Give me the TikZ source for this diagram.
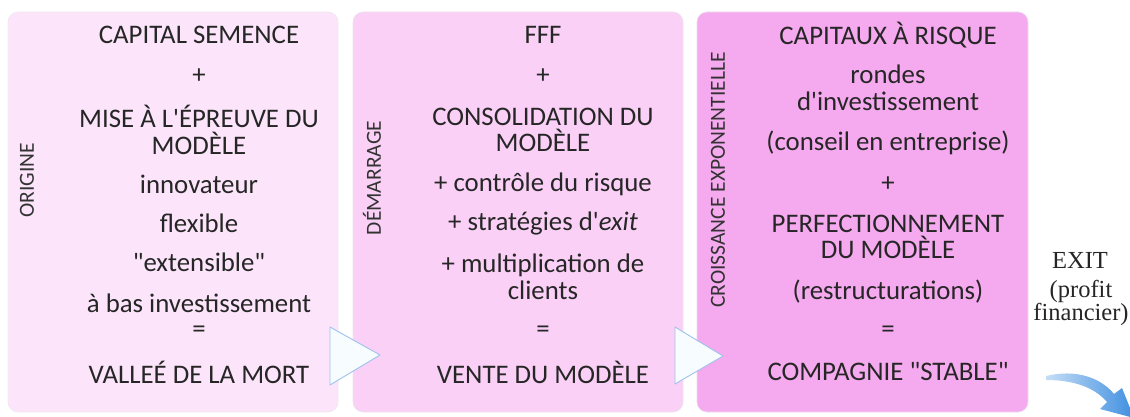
\documentclass[tikz,border=0pt]{standalone}
\usepackage{fontspec}
\setmainfont{Carlito}[Ligatures=TeXOff]
\newfontfamily\exitfont{Liberation Serif}[Ligatures=TeXOff]
\definecolor{boxA}{HTML}{FCE5FA}
\definecolor{boxB}{HTML}{FAD0F6}
\definecolor{boxC}{HTML}{F5A9EE}
\definecolor{triB}{HTML}{9EC2EC}
\definecolor{arrB}{HTML}{3F8FE0}
\begin{document}
\begin{tikzpicture}[x=1pt,y=-1pt,
  stagebox/.style={rounded corners=10pt, draw=#1!80!black!30, line width=0.6pt, fill=#1},
  txt/.style={font=\fontsize{26.8}{26.5}\selectfont, align=center, inner sep=0pt, text=black!85},
  side/.style={font=\fontsize{21.5}{22}\selectfont, rotate=90, inner sep=0pt, text=black!80},
  tri/.style={draw=triB, line width=0.9pt, fill=white!92!cyan!40!white, line join=round},
  exittxt/.style={font=\exitfont\fontsize{24.5}{21}\selectfont, align=center, inner sep=0pt, text=black!85}]
\useasboundingbox (0,0) rectangle (1130,417);
\fill[white] (0,0) rectangle (1130,417);
% boxes
\path[stagebox=boxA] (8,12) rectangle (338,412);
\path[stagebox=boxB] (353,12) rectangle (683,412);
\path[stagebox=boxC] (697,12) rectangle (1028,412);
% triangles
\path[tri] (330,327) -- (380,355) -- (330,385) -- cycle;
\path[tri] (675,327) -- (723,356) -- (675,384) -- cycle;
% side labels
\node[side] (sA) at (27,180) {ORIGINE};
\node[side] (sB) at (372,178) {DÉMARRAGE};
\node[side] (sC) at (718,180) {CROISSANCE EXPONENTIELLE};
% box 1
\node[txt] (a1) at (199,35) {CAPITAL SEMENCE};
\node[txt] (a2) at (199,76) {+};
\node[txt] (a3) at (199,130) {MISE À L'ÉPREUVE DU\\MODÈLE};
\node[txt] (a4) at (199,184) {innovateur};
\node[txt] (a5) at (199,223) {flexible};
\node[txt] (a6) at (199,262) {"extensible"};
\node[txt] (a7) at (199,303) {à bas investissement};
\node[txt] (a8) at (199,332) {=};
\node[txt] (a9) at (199,372) {VALLEÉ DE LA MORT};
% box 2
\node[txt] (b1) at (543,35) {FFF};
\node[txt] (b2) at (543,76) {+};
\node[txt] (b3) at (543,130) {CONSOLIDATION DU\\MODÈLE};
\node[txt] (b4) at (543,184) {+ contrôle du risque};
\node[txt] (b5) at (543,223) {+ stratégies d'\textit{exit}};
\node[txt] (b6) at (543,277) {+ multiplication de\\clients};
\node[txt] (b7) at (543,332) {=};
\node[txt] (b8) at (543,372) {VENTE DU MODÈLE};
% box 3
\node[txt] (c1) at (888,35) {CAPITAUX À RISQUE};
\node[txt] (c2) at (888,88) {rondes\\d'investissement};
\node[txt] (c3) at (888,143) {(conseil en entreprise)};
\node[txt] (c4) at (888,184) {+};
\node[txt] (c5) at (888,237) {PERFECTIONNEMENT\\DU MODÈLE};
\node[txt] (c6) at (888,292) {(restructurations)};
\node[txt] (c7) at (888,332) {=};
\node[txt] (c8) at (888,372) {COMPAGNIE "STABLE"};
% exit
\node[exittxt] (e1) at (1080,260) {EXIT};
\node[exittxt] (e2) at (1081,303) {(profit\\financier)};
% curved arrow
\shade[left color=white!70!arrB, right color=arrB]
  (1046,376) .. controls (1075,369) and (1100,377) .. (1114,394)
  -- (1122,388) -- (1134,418) -- (1100,409) -- (1107,402)
  .. controls (1095,388) and (1075,380) .. (1046,380) -- cycle;
\end{tikzpicture}
\end{document}
